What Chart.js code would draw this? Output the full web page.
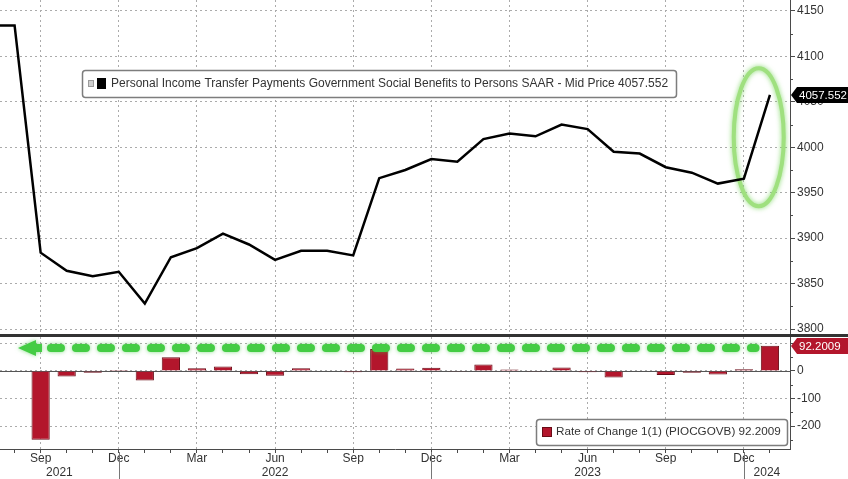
<!DOCTYPE html>
<html>
<head>
<meta charset="utf-8">
<title>Personal Income Transfer Payments - Government Social Benefits</title>
<script src="https://cdn.jsdelivr.net/npm/chart.js@4.4.1/dist/chart.umd.min.js"></script>
<style>
  html, body { margin: 0; padding: 0; background: #fff; }
  #wrap { position: relative; width: 848px; height: 479px; overflow: hidden; background: #fff; }
  canvas { position: absolute; left: 0; }
  #topChart { top: 0; }
  #bottomChart { top: 334px; }
</style>
</head>
<body>
<div id="wrap">
  <canvas id="topChart" width="848" height="334"></canvas>
  <canvas id="bottomChart" width="848" height="145"></canvas>
</div>
<script>
const months = [
  'Jul 2021', 'Aug 2021', 'Sep 2021', 'Oct 2021', 'Nov 2021', 'Dec 2021',
  'Jan 2022', 'Feb 2022', 'Mar 2022', 'Apr 2022', 'May 2022', 'Jun 2022',
  'Jul 2022', 'Aug 2022', 'Sep 2022', 'Oct 2022', 'Nov 2022', 'Dec 2022',
  'Jan 2023', 'Feb 2023', 'Mar 2023', 'Apr 2023', 'May 2023', 'Jun 2023',
  'Jul 2023', 'Aug 2023', 'Sep 2023', 'Oct 2023', 'Nov 2023', 'Dec 2023',
  'Jan 2024'
];

// Government social benefits to persons, SAAR ($bn)
const socialBenefits = [
  4134, 4134, 3884, 3864, 3858, 3863,
  3828, 3879, 3889, 3905, 3893, 3876,
  3886, 3886, 3881, 3966, 3975, 3987,
  3984, 4009, 4015, 4012, 4025, 4020,
  3995, 3993, 3978, 3972, 3960, 3965.35,
  4057.552
];

// Rate of change 1(1) (PIOCGOVB)
const rateOfChange = [
  null, 0, -250, -20, -6, 4,
  -35, 50, 10, 16, -12, -17,
  10, 0, -5, 80, 9, 12,
  -3, 24, 5, -3, 13, -5,
  -24, -2, -15, -6, -13, 6,
  92.2009
];

const quarterMonths = ['Mar', 'Jun', 'Sep', 'Dec'];

const FONT = "'Liberation Sans', Arial, sans-serif";
const GRID = '#ababab';
const AXIS = '#4a4a4a';
const RED = '#b3162c';

// visible window in month-index units
const X_MIN = 0.44, X_MAX = 30.77;

const monthName = i => months[i].split(' ')[0];
const isQuarter = i => quarterMonths.includes(monthName(i));
const monthTicks = months.map((m, i) => i).filter(i => i >= X_MIN && i <= X_MAX);
const quarterTicks = monthTicks.filter(isQuarter);
const decTicks = monthTicks.filter(i => monthName(i) === 'Dec');

// year labels sit in the middle of each visible year block
const yearBounds = [X_MIN, ...decTicks, X_MAX];
const yearTicks = [];
for (let k = 0; k < yearBounds.length - 1; k++) {
  const first = Math.floor(yearBounds[k]) + 1;
  yearTicks.push({ value: (yearBounds[k] + yearBounds[k + 1]) / 2, label: months[first].split(' ')[1] });
}

const last = socialBenefits.length - 1;

// no extra room for half-labels, the panels butt against each other
function noPadding(s) {
  s.paddingTop = 0;
  s.paddingBottom = 0;
  s.paddingLeft = 0;
  s.paddingRight = 0;
}

function rightAxis(min, max, step) {
  return {
    position: 'right', min, max, bounds: 'data',
    afterBuildTicks: s => {
      const t = [];
      for (let v = Math.ceil(min / step) * step; v <= max; v += step) t.push({ value: v });
      s.ticks = t;
    },
    ticks: {
      color: '#333', font: { family: FONT, size: 12 }, padding: 2,
      callback: v => String(Math.round(v))
    },
    grid: { color: GRID, lineWidth: 1, tickColor: AXIS, tickLength: 5, tickBorderDash: [] },
    border: { display: true, color: AXIS, width: 1, dash: [2, 3] },
    afterFit: s => { s.width = 58; noPadding(s); }
  };
}

function minorTicks(chart, step) {
  const { ctx, chartArea } = chart;
  const y = chart.scales.y;
  ctx.save();
  ctx.strokeStyle = AXIS;
  ctx.lineWidth = 1;
  for (let v = Math.ceil(y.min / step) * step; v <= y.max; v += step) {
    if (Math.abs(v % (step * 2)) < 1e-6) continue;
    const py = Math.round(y.getPixelForValue(v)) + 0.5;
    ctx.beginPath();
    ctx.moveTo(chartArea.right, py);
    ctx.lineTo(chartArea.right + 3, py);
    ctx.stroke();
  }
  ctx.restore();
}

function valueTag(chart, value, text, color) {
  const { ctx, chartArea } = chart;
  const y = Math.round(chart.scales.y.getPixelForValue(value));
  const x0 = chartArea.right + 1, h = 16;
  ctx.save();
  ctx.fillStyle = color;
  ctx.beginPath();
  ctx.moveTo(x0, y);
  ctx.lineTo(x0 + 6, y - h / 2);
  ctx.lineTo(chart.width, y - h / 2);
  ctx.lineTo(chart.width, y + h / 2);
  ctx.lineTo(x0 + 6, y + h / 2);
  ctx.closePath();
  ctx.fill();
  ctx.fillStyle = '#fff';
  ctx.font = `11.5px ${FONT}`;
  ctx.textAlign = 'left';
  ctx.textBaseline = 'middle';
  ctx.fillText(text, x0 + 8, y + 1);
  ctx.restore();
}

function legendBox(ctx, x, y, w, h) {
  ctx.save();
  ctx.beginPath();
  ctx.roundRect(x + 0.5, y + 0.5, w, h, 3);
  ctx.fillStyle = '#fff';
  ctx.fill();
  ctx.lineWidth = 1.5;
  ctx.strokeStyle = '#7d7d7d';
  ctx.stroke();
  ctx.restore();
}

function legendText(ctx, text, x, y, width) {
  ctx.save();
  ctx.font = `12px ${FONT}`;
  const size = Math.max(10, Math.min(13, 12 * width / ctx.measureText(text).width));
  ctx.font = `${size.toFixed(2)}px ${FONT}`;
  ctx.fillStyle = '#333';
  ctx.textAlign = 'left';
  ctx.textBaseline = 'middle';
  ctx.fillText(text, x, y);
  ctx.restore();
}

// green highlight ring around the latest jump
const topDecor = {
  id: 'topDecor',
  beforeDatasetsDraw(chart) {
    const { ctx } = chart;
    const cx = chart.scales.x.getPixelForValue(29.57);
    const cy = chart.scales.y.getPixelForValue(4011);
    ctx.save();
    ctx.strokeStyle = '#9fe07f';
    ctx.lineWidth = 4;
    ctx.shadowColor = 'rgba(110,210,80,0.8)';
    ctx.shadowBlur = 5;
    ctx.beginPath();
    ctx.ellipse(cx, cy, 25, 69, 0, 0, Math.PI * 2);
    ctx.stroke();
    ctx.restore();
  },
  afterDraw(chart) {
    const { ctx } = chart;
    minorTicks(chart, 25);
    valueTag(chart, socialBenefits[last], socialBenefits[last].toFixed(3), '#000');

    legendBox(ctx, 82, 70, 594, 27);
    ctx.save();
    ctx.fillStyle = '#cfcfcf';
    ctx.strokeStyle = '#9a9a9a';
    ctx.fillRect(88, 80, 6, 7);
    ctx.strokeRect(88.5, 80.5, 5, 6);
    ctx.fillStyle = '#000';
    ctx.fillRect(97, 78, 9, 11);
    ctx.restore();
    legendText(ctx, 'Personal Income Transfer Payments Government Social Benefits to Persons SAAR - Mid Price ' +
      socialBenefits[last].toFixed(3), 111, 84, 557);
  }
};

const bottomDecor = {
  id: 'bottomDecor',
  beforeDatasetsDraw(chart) {
    const { ctx, chartArea } = chart;
    const y0 = Math.round(chart.scales.y.getPixelForValue(0)) + 0.5;
    ctx.save();
    ctx.strokeStyle = '#555';
    ctx.lineWidth = 1;
    ctx.beginPath();
    ctx.moveTo(chartArea.left, y0);
    ctx.lineTo(chartArea.right, y0);
    ctx.stroke();
    ctx.restore();
  },
  afterDatasetsDraw(chart) {
    // dashed green arrow pointing back to the previous level
    const { ctx } = chart;
    const xs = chart.scales.x, ys = chart.scales.y;
    const y = ys.getPixelForValue(84);
    const tip = xs.getPixelForValue(1.13);
    const end = xs.getPixelForValue(29.6);
    ctx.save();
    ctx.shadowColor = 'rgba(60,200,60,0.6)';
    ctx.shadowBlur = 4;
    ctx.strokeStyle = '#44cc44';
    ctx.fillStyle = '#44cc44';
    ctx.lineWidth = 8;
    ctx.lineCap = 'round';
    ctx.setLineDash([10, 15]);
    ctx.beginPath();
    ctx.moveTo(tip + 33, y);
    ctx.lineTo(end - 4, y);
    ctx.stroke();
    ctx.setLineDash([]);
    ctx.beginPath();
    ctx.moveTo(tip, y);
    ctx.lineTo(tip + 18, y - 8);
    ctx.lineTo(tip + 18, y - 4);
    ctx.lineTo(tip + 24, y - 4);
    ctx.lineTo(tip + 24, y + 4);
    ctx.lineTo(tip + 18, y + 4);
    ctx.lineTo(tip + 18, y + 8);
    ctx.closePath();
    ctx.fill();
    ctx.restore();
  },
  afterDraw(chart) {
    const { ctx, chartArea } = chart;
    minorTicks(chart, 50);

    // year separators below the axis
    ctx.save();
    ctx.strokeStyle = '#777';
    ctx.lineWidth = 1;
    decTicks.forEach(i => {
      const px = Math.round(chart.scales.x.getPixelForValue(i)) + 0.5;
      ctx.beginPath();
      ctx.moveTo(px, chartArea.bottom + 3);
      ctx.lineTo(px, chart.height);
      ctx.stroke();
    });
    // panel divider
    ctx.fillStyle = '#333';
    ctx.fillRect(0, 0, chart.width, 3);
    ctx.restore();

    valueTag(chart, rateOfChange[last], rateOfChange[last].toFixed(4), RED);

    legendBox(ctx, 536, 85, 251, 26);
    ctx.save();
    ctx.fillStyle = RED;
    ctx.strokeStyle = '#6a0c17';
    ctx.fillRect(542, 93, 10, 10);
    ctx.strokeRect(542.5, 93.5, 9, 9);
    ctx.restore();
    legendText(ctx, 'Rate of Change 1(1) (PIOCGOVB) ' + rateOfChange[last].toFixed(4), 556, 98, 225);
  }
};

new Chart(document.getElementById('topChart'), {
  type: 'line',
  data: {
    datasets: [{
      data: socialBenefits.map((v, i) => ({ x: i, y: v })),
      borderColor: '#000',
      borderWidth: 2.5,
      pointRadius: 0,
      tension: 0
    }]
  },
  options: {
    responsive: false,
    animation: false,
    devicePixelRatio: 1,
    events: [],
    layout: { padding: 0 },
    plugins: { legend: { display: false }, tooltip: { enabled: false } },
    scales: {
      x: {
        type: 'linear', min: X_MIN, max: X_MAX, bounds: 'data',
        afterBuildTicks: s => { s.ticks = quarterTicks.map(v => ({ value: v })); },
        ticks: { display: false },
        grid: { color: GRID, drawTicks: false },
        border: { display: false, dash: [2, 3] },
        afterFit: s => { s.height = 0; noPadding(s); }
      },
      y: rightAxis(3794.5, 4162, 50)
    }
  },
  plugins: [topDecor]
});

new Chart(document.getElementById('bottomChart'), {
  type: 'bar',
  data: {
    datasets: [{
      data: rateOfChange.map((v, i) => ({ x: i, y: v })),
      backgroundColor: RED,
      borderColor: '#6a0c17',
      borderWidth: 1,
      barPercentage: 0.7,
      categoryPercentage: 1
    }]
  },
  options: {
    responsive: false,
    animation: false,
    devicePixelRatio: 1,
    events: [],
    layout: { padding: { top: 3 } },
    plugins: { legend: { display: false }, tooltip: { enabled: false } },
    scales: {
      x: {
        type: 'linear', position: 'bottom', min: X_MIN, max: X_MAX, bounds: 'data', offset: false, weight: 0,
        afterBuildTicks: s => { s.ticks = monthTicks.map(v => ({ value: v })); },
        ticks: {
          autoSkip: false, maxRotation: 0, minRotation: 0, padding: 0, color: '#333',
          font: { family: FONT, size: 12, lineHeight: 1 },
          callback: v => isQuarter(v) ? monthName(v) : ''
        },
        grid: {
          offset: false,
          color: c => (c.tick && isQuarter(c.tick.value)) ? GRID : 'rgba(0,0,0,0)',
          tickColor: AXIS, tickLength: 4, tickBorderDash: []
        },
        border: { display: true, color: AXIS, dash: [2, 3] },
        afterFit: s => { s.height = 15; noPadding(s); }
      },
      x2: {
        type: 'linear', position: 'bottom', min: X_MIN, max: X_MAX, bounds: 'data', offset: false, weight: 1,
        afterBuildTicks: s => { s.ticks = yearTicks.map(t => ({ value: t.value })); },
        ticks: {
          autoSkip: false, maxRotation: 0, minRotation: 0, padding: 3, color: '#333',
          font: { family: FONT, size: 12, lineHeight: 1 },
          callback: (v, i) => yearTicks[i].label
        },
        grid: { display: false, drawTicks: false },
        border: { display: false },
        afterFit: s => { s.height = 15; noPadding(s); }
      },
      y: rightAxis(-283.6, 123.6, 100)
    }
  },
  plugins: [bottomDecor]
});
</script>
</body>
</html>
